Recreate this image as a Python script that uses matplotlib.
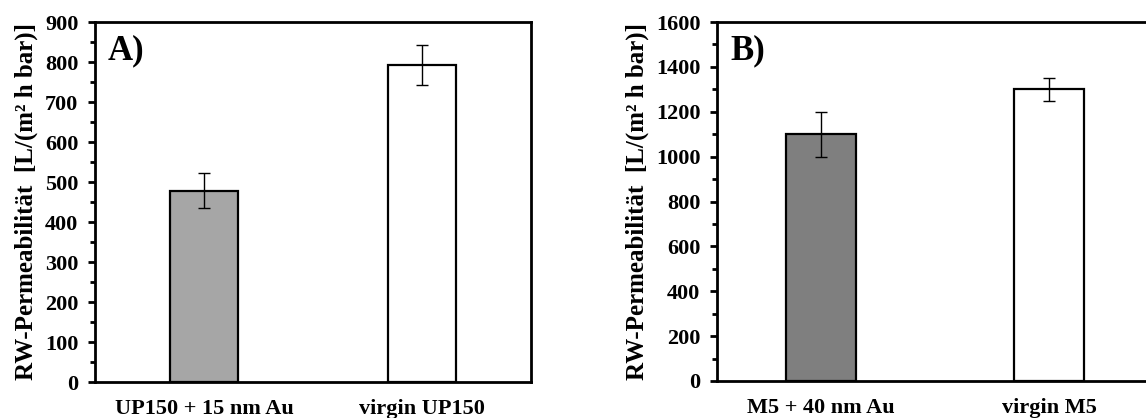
import matplotlib
matplotlib.use("Agg")
import matplotlib.pyplot as plt
from matplotlib.ticker import MultipleLocator

plt.rcParams['font.family'] = ['Liberation Serif', 'DejaVu Serif']
plt.rcParams['font.weight'] = 'bold'

# Panel A data
cats_a = ["UP150 + 15 nm Au", "virgin UP150"]
vals_a = [478, 792]
errs_a = [44, 50]
colors_a = ["#A6A6A6", "#FFFFFF"]

# Panel B data
cats_b = ["M5 + 40 nm Au", "virgin M5"]
vals_b = [1100, 1300]
errs_b = [100, 50]
colors_b = ["#7F7F7F", "#FFFFFF"]

ylabel = "RW-Permeabilität  [L/(m² h bar)]"

W, H = 1146, 418
fig = plt.figure(figsize=(W / 100, H / 100), dpi=100)

ax1 = fig.add_axes([95 / W, (H - 382) / H, 436 / W, 360 / H])
ax2 = fig.add_axes([717 / W, (H - 381) / H, 456 / W, 359 / H])

def style(ax, cats, vals, errs, colors, ymax, major, minor, letter, xlim):
    x = list(range(len(cats)))
    ax.bar(x, vals, width=0.31, color=colors, edgecolor="black", linewidth=1.6,
           zorder=2)
    ax.errorbar(x, vals, yerr=errs, fmt="none", ecolor="black", elinewidth=1.0,
                capsize=4, capthick=1.0, zorder=3)
    ax.set_xlim(*xlim)
    ax.set_ylim(0, ymax)
    ax.yaxis.set_major_locator(MultipleLocator(major))
    ax.yaxis.set_minor_locator(MultipleLocator(minor))
    ax.set_xticks(x)
    ax.set_xticklabels(cats, fontsize=16, fontweight="bold")
    ax.tick_params(axis="x", length=0, pad=12)
    ax.tick_params(axis="y", which="major", direction="out", length=5, width=2,
                   labelsize=16, pad=7)
    ax.tick_params(axis="y", which="minor", direction="out", length=3.5, width=2)
    for lab in ax.get_yticklabels():
        lab.set_fontweight("bold")
    for sp in ax.spines.values():
        sp.set_linewidth(2.0)
    ax.set_ylabel(ylabel, fontsize=18, fontweight="bold", labelpad=5)
    ax.text(0.03, 0.965, letter, transform=ax.transAxes, fontsize=25,
            fontweight="bold", va="top", ha="left")

style(ax1, cats_a, vals_a, errs_a, colors_a, 900, 100, 50, "A)", (-0.5, 1.5))
style(ax2, cats_b, vals_b, errs_b, colors_b, 1600, 200, 100, "B)", (-0.456, 1.544))

fig.savefig("out.png", dpi=100)
